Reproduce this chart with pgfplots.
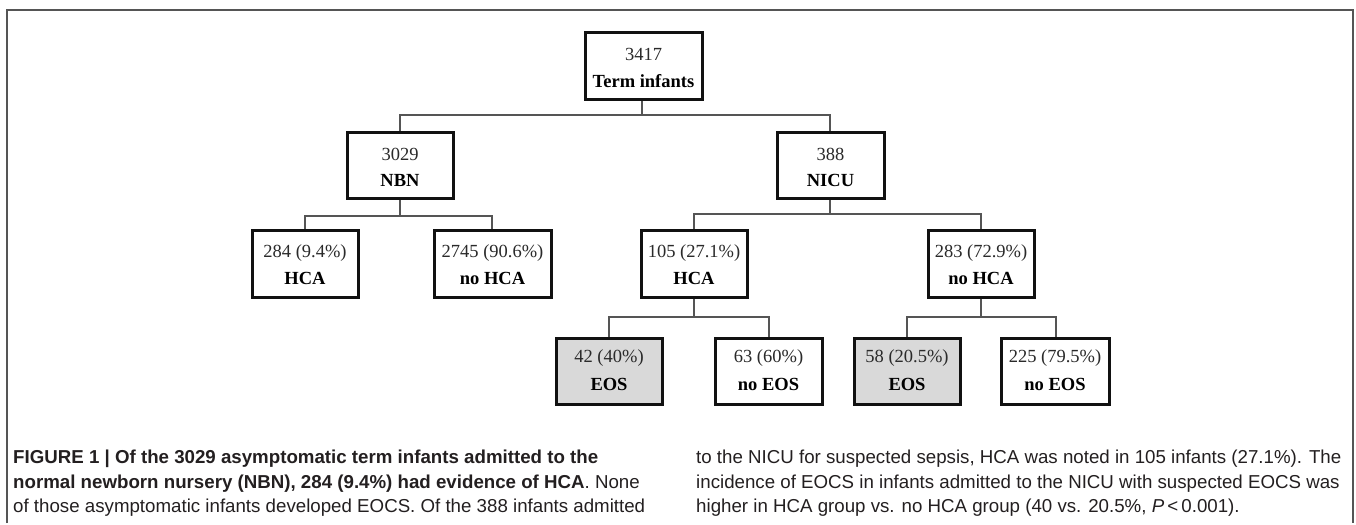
\documentclass[border=0pt]{standalone}
\usepackage{pgfplots}
\pgfplotsset{compat=1.18}
\usepackage{pgfplotstable}
\usepackage{fontspec}
\setmainfont{Liberation Serif}
\newfontfamily\capfont[FakeStretch=1.0]{Liberation Sans}
\definecolor{linegray}{HTML}{555555}
\definecolor{boxgray}{HTML}{D9D9D9}
\definecolor{boxline}{HTML}{111111}
\definecolor{capcol}{HTML}{231F20}
\definecolor{numcol}{HTML}{2A2A2A}

\begin{document}
\pgfplotstableread[col sep=comma]{
x,y,t
643.5,54,3417
400,154,3029
830.5,154,388
305,253,284 (9.4\%)
492.5,253,2745 (90.6\%)
694,253,105 (27.1\%)
981,253,283 (72.9\%)
609,358,42 (40\%)
768.5,358,63 (60\%)
907,358,58 (20.5\%)
1055,358,225 (79.5\%)
}\numtab
\pgfplotstableread[col sep=comma]{
x,y,t
643.5,81,Term infants
400,180,NBN
830.5,180,NICU
305,278,HCA
492.5,278,no HCA
694,278,HCA
981,278,no HCA
609,384,EOS
768.5,384,no EOS
907,384,EOS
1055,384,no EOS
}\labtab
\begin{tikzpicture}
\begin{axis}[
  width=1356bp, height=523bp, scale only axis,
  xmin=0, xmax=1356, ymin=0, ymax=523, y dir=reverse,
  axis lines=none, clip=false,
  boxw/.style={draw=boxline, line width=3bp, fill=white, line join=miter, mark=none},
  boxg/.style={draw=boxline, line width=3bp, fill=boxgray, line join=miter, mark=none},
  conn/.style={draw=linegray, line width=1.3bp, mark=none},
]
\path (rel axis cs:0,0) rectangle (rel axis cs:1,1);
% frame
\addplot[draw=linegray, line width=2bp, mark=none] coordinates {(7,523) (7,10) (1353,10) (1353,523)};
% connectors
\addplot[conn] coordinates {(642,99) (642,115)};
\addplot[conn] coordinates {(400,132) (400,115) (830,115) (830,132)};
\addplot[conn] coordinates {(400,198) (400,216)};
\addplot[conn] coordinates {(305,230) (305,216) (492,216) (492,230)};
\addplot[conn] coordinates {(830,198) (830,214)};
\addplot[conn] coordinates {(694,230) (694,214) (981,214) (981,230)};
\addplot[conn] coordinates {(694,297) (694,317)};
\addplot[conn] coordinates {(609,338) (609,317) (769,317) (769,338)};
\addplot[conn] coordinates {(981,297) (981,317)};
\addplot[conn] coordinates {(907,338) (907,317) (1056,317) (1056,338)};
% boxes
\addplot[boxw] coordinates {(585,33) (702,33) (702,99) (585,99)} --cycle;
\addplot[boxw] coordinates {(347,132) (453,132) (453,198) (347,198)} --cycle;
\addplot[boxw] coordinates {(777,132) (884,132) (884,198) (777,198)} --cycle;
\addplot[boxw] coordinates {(252,230) (358,230) (358,297) (252,297)} --cycle;
\addplot[boxw] coordinates {(434,230) (551,230) (551,297) (434,297)} --cycle;
\addplot[boxw] coordinates {(641,230) (747,230) (747,297) (641,297)} --cycle;
\addplot[boxw] coordinates {(928,230) (1034,230) (1034,297) (928,297)} --cycle;
\addplot[boxg] coordinates {(556,338) (662,338) (662,404) (556,404)} --cycle;
\addplot[boxw] coordinates {(715,338) (822,338) (822,404) (715,404)} --cycle;
\addplot[boxg] coordinates {(854,338) (960,338) (960,404) (854,404)} --cycle;
\addplot[boxw] coordinates {(1001,338) (1109,338) (1109,404) (1001,404)} --cycle;
% texts
\addplot[draw=none, mark=none, nodes near coords, point meta=explicit symbolic,
  every node near coord/.append style={anchor=center, inner sep=0pt, text=numcol,
    font=\fontsize{18.5bp}{22bp}\selectfont}] table[x=x, y=y, meta=t] {\numtab};
\addplot[draw=none, mark=none, nodes near coords, point meta=explicit symbolic,
  every node near coord/.append style={anchor=center, inner sep=0pt, text=black,
    font=\fontsize{18.5bp}{22bp}\selectfont\bfseries}] table[x=x, y=y, meta=t] {\labtab};
% caption
\begin{scope}[every node/.style={anchor=base west, inner sep=0pt, text=capcol,
    font=\capfont\fontsize{18.7bp}{24bp}\selectfont}]
\node at (axis cs:13,463) {\textbf{FIGURE 1 | Of the 3029 asymptomatic term infants admitted to the}};
\node at (axis cs:13,488) {\textbf{normal newborn nursery (NBN), 284 (9.4\%) had evidence of HCA}. None};
\node at (axis cs:13,512) {of those asymptomatic infants developed EOCS. Of the 388 infants admitted};
\node at (axis cs:696,463) {to the NICU for suspected sepsis, HCA was noted in 105 infants (27.1\%). The};
\node at (axis cs:696,488) {incidence of EOCS in infants admitted to the NICU with suspected EOCS was};
\node at (axis cs:696,512) {higher in HCA group vs. no HCA group (40 vs. 20.5\%, \textit{P}\,<\,0.001).};
\end{scope}
\end{axis}
\end{tikzpicture}
\end{document}
